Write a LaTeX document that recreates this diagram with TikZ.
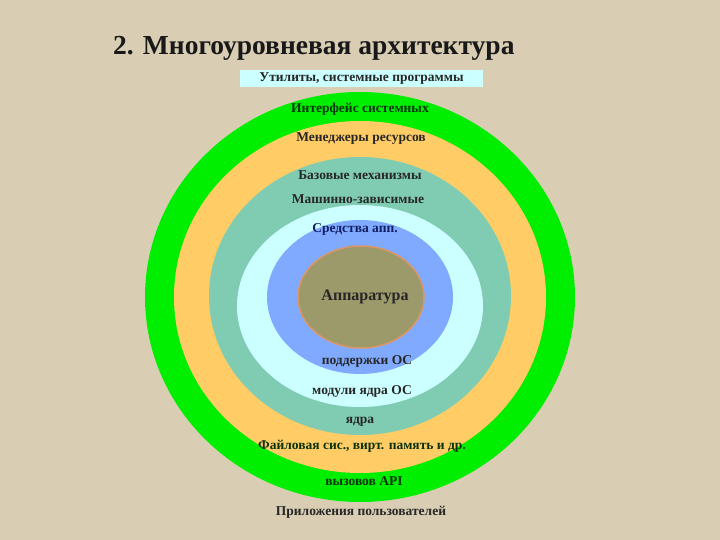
\documentclass[tikz,border=0pt]{standalone}
\usepackage{fontspec}
\setmainfont{Liberation Serif}
\begin{document}
\begin{tikzpicture}[x=1pt,y=-1pt,
  lbl/.style={font=\bfseries\fontsize{13.5}{15}\selectfont, text=black!85, inner sep=1pt},
  ring/.style={draw=none}]
\fill[fill={rgb,255:red,217;green,206;blue,180}] (0,0) rectangle (720,540);
\useasboundingbox (0,0) rectangle (720,540);
\node[font=\bfseries\fontsize{27.5}{30}\selectfont, text=black!90, anchor=west, inner sep=0] (title) at (113,48) {2. Многоуровневая архитектура};
\fill[fill={rgb,255:red,0;green,238;blue,0}] (360,297) ellipse [x radius=215, y radius=205];
\fill[fill={rgb,255:red,255;green,204;blue,102}] (360,297) ellipse [x radius=186, y radius=176];
\fill[fill={rgb,255:red,128;green,204;blue,178}] (360,296) ellipse [x radius=151, y radius=139];
\fill[fill={rgb,255:red,204;green,255;blue,255}] (360,306) ellipse [x radius=123, y radius=101];
\fill[fill={rgb,255:red,128;green,170;blue,255}] (360,297) ellipse [x radius=93, y radius=77];
\filldraw[fill={rgb,255:red,156;green,154;blue,106}, draw={rgb,255:red,220;green,150;blue,100}, line width=1.5pt] (361,297) ellipse [x radius=63, y radius=51];
\node[draw=none, fill={rgb,255:red,204;green,255;blue,255}, minimum width=243, minimum height=17, inner sep=0] (box) at (361.5,78.5) {};
\node[lbl] (t1) at (box) {Утилиты, системные программы};
\node[lbl, text={rgb,255:red,10;green,50;blue,10}] (t2) at (360,109) {Интерфейс системных};
\node[lbl] (t3) at (361,139) {Менеджеры ресурсов};
\node[lbl] (t4) at (360,175) {Базовые механизмы};
\node[lbl] (t5) at (358,199) {Машинно-зависимые};
\node[lbl, text={rgb,255:red,20;green,30;blue,100}] (t6) at (355,229) {Средства апп.};
\node[lbl, font=\bfseries\fontsize{16}{17}\selectfont] (t7) at (365,297) {Аппаратура};
\node[lbl] (t8) at (367,361) {поддержки ОС};
\node[lbl] (t9) at (362,391) {модули ядра ОС};
\node[lbl] (t10) at (360,422) {ядра};
\node[lbl, text={rgb,255:red,10;green,50;blue,10}] (t11) at (362,446) {Файловая сис., вирт. память и др.};
\node[lbl, text={rgb,255:red,10;green,50;blue,10}] (t12) at (364,481) {вызовов API};
\node[lbl] (t13) at (361,512) {Приложения пользователей};
\end{tikzpicture}
\end{document}
